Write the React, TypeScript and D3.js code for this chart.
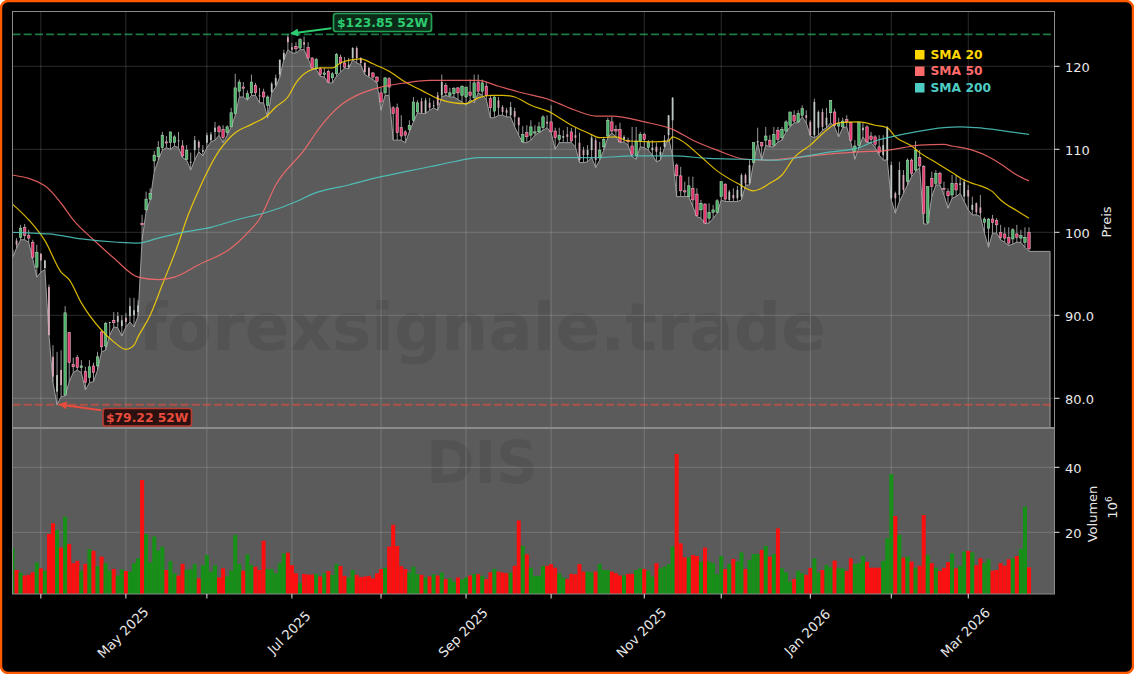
import React from "react";
import * as d3 from "d3";

const opens = [
  97.3,99.0,99.4,100.6,99.6,98.8,95.8,97.4,95.7,93.4,
  85.0,80.8,83.4,80.4,87.9,84.1,84.9,83.7,83.2,82.5,
  83.9,83.9,88.0,86.3,89.1,89.4,89.2,88.7,89.7,89.9,
  90.0,90.4,101.1,102.7,104.0,108.6,109.1,110.2,110.9,110.8,
  110.8,111.1,110.4,108.8,108.4,109.9,110.9,109.7,110.8,111.1,
  112.1,112.7,112.4,112.0,112.7,114.3,117.0,117.5,116.1,116.8,
  117.7,116.5,116.9,115.3,116.9,117.7,119.0,120.8,123.5,122.3,
  122.4,122.2,122.9,122.3,121.0,119.7,119.7,119.0,119.4,118.6,
  119.1,121.1,120.4,119.9,121.0,122.2,121.0,120.4,119.8,119.2,
  118.7,116.8,116.8,118.5,115.0,115.0,112.6,112.1,112.4,113.5,
  114.5,115.8,114.4,115.6,115.2,116.5,116.5,117.7,116.5,116.7,
  117.4,116.5,116.3,116.9,116.2,118.1,117.0,117.6,116.1,114.6,
  115.9,115.1,114.7,114.1,114.6,113.8,110.9,112.0,111.7,112.0,
  112.1,112.6,113.3,113.3,112.2,111.2,111.4,111.8,112.1,111.7,
  110.8,109.9,109.3,109.9,111.1,109.0,110.3,111.6,113.3,112.4,
  112.4,111.2,111.1,110.4,109.3,111.0,111.8,110.2,109.9,110.3,
  109.3,110.3,111.7,113.5,108.1,106.8,105.0,104.3,105.3,104.6,
  102.7,103.4,101.7,102.4,102.4,104.3,105.8,103.9,104.5,104.1,
  104.3,106.9,105.9,108.4,110.8,110.8,111.1,111.1,110.5,112.3,
  111.4,112.2,112.9,114.1,113.3,114.1,114.1,113.3,111.7,112.6,
  114.5,112.9,114.4,114.5,112.8,112.7,113.6,113.2,109.7,110.5,
  112.3,112.7,111.6,111.5,110.3,109.3,108.7,104.1,104.7,104.5,
  106.9,106.1,108.7,107.5,109.0,107.9,101.2,106.5,105.9,107.1,
  105.3,104.9,104.5,105.9,105.7,104.3,105.1,102.7,103.5,103.0,
  101.2,100.5,101.6,101.4,100.0,99.8,99.4,99.2,99.8,99.3,98.8,100.0,
];
const closes = [
  97.9,98.5,100.5,99.6,99.3,97.0,97.6,96.6,96.6,87.6,
  82.6,82.8,81.6,90.3,84.3,83.8,83.7,83.9,81.9,83.8,
  83.1,85.0,86.2,89.0,89.2,89.1,89.9,89.4,89.2,91.1,
  90.6,91.2,100.9,104.0,104.7,109.3,110.2,111.7,110.8,112.1,
  111.5,111.0,109.2,109.9,108.5,111.1,110.2,109.9,111.7,111.8,
  112.6,112.1,111.4,112.7,114.4,117.4,118.1,117.4,116.7,118.1,
  116.8,116.4,116.3,116.3,117.9,118.6,120.8,121.6,122.9,122.0,
  122.1,123.2,122.6,121.0,119.8,120.8,119.0,119.2,118.1,119.1,
  121.4,120.4,119.9,120.2,122.2,121.0,120.4,119.3,118.8,118.7,
  118.2,115.7,118.6,117.5,114.3,112.0,111.6,111.7,112.9,115.7,
  115.6,114.4,115.9,115.0,115.3,115.3,118.1,116.8,116.8,117.3,
  116.8,117.6,117.5,116.5,118.0,117.0,118.0,116.5,115.0,116.3,
  115.0,114.5,114.4,115.1,113.9,112.9,111.8,111.5,112.7,112.1,
  112.7,113.9,113.1,112.1,111.4,111.7,111.6,111.5,111.0,111.4,
  108.7,109.3,109.9,111.4,108.7,109.9,111.2,113.5,112.2,112.2,
  110.9,111.5,110.9,109.4,111.0,111.8,111.2,110.8,110.2,109.7,
  109.7,111.1,114.1,116.2,106.8,105.0,104.9,105.6,103.9,102.0,
  103.5,101.1,102.4,102.7,103.8,106.1,104.0,104.9,104.1,105.1,
  106.9,105.9,108.1,110.8,111.0,110.4,111.6,110.5,111.8,111.2,
  112.4,113.3,114.5,113.4,114.3,114.9,113.8,111.7,115.7,114.5,
  112.7,113.8,115.9,112.9,113.1,113.4,113.3,111.1,110.4,113.2,
  112.6,110.9,111.2,110.6,109.6,110.5,112.6,108.1,104.1,107.5,
  105.1,108.7,107.1,109.9,108.0,102.3,105.5,105.5,107.1,105.9,
  105.2,104.4,105.9,105.1,105.9,106.1,104.3,103.3,102.4,102.3,
  101.6,101.6,101.2,100.9,99.4,99.3,98.7,100.3,99.4,99.6,99.4,98.0,
];
const highs = [
  98.2,99.3,100.9,101.0,100.3,99.1,98.5,97.5,96.7,93.7,
  86.4,85.6,85.8,91.1,88.0,84.9,85.2,84.6,83.8,84.6,
  84.3,85.6,88.1,89.2,89.2,90.4,90.4,90.0,90.3,92.1,
  92.1,91.8,102.1,104.9,105.3,109.8,111.0,112.1,111.6,112.1,
  111.7,112.1,111.1,110.5,109.6,111.6,111.1,110.5,112.0,112.1,
  113.3,112.9,112.9,112.9,115.0,119.1,118.4,118.1,117.1,119.0,
  118.0,117.4,117.3,116.5,118.1,119.0,120.8,122.0,123.85,122.8,
  122.9,123.4,123.6,122.9,121.1,121.0,119.9,119.8,119.6,119.3,
  121.6,121.4,121.1,121.0,122.3,122.4,121.1,120.5,119.9,119.3,
  118.8,117.4,118.7,118.7,115.2,115.5,114.1,112.3,113.5,116.3,
  115.9,116.2,116.2,116.2,115.9,116.9,119.0,118.0,117.4,117.5,
  117.5,117.7,117.5,118.4,119.0,119.0,118.4,118.1,116.5,116.4,
  116.3,115.3,115.0,115.7,115.0,113.9,112.8,112.9,113.5,112.9,
  113.3,114.1,114.1,115.3,112.6,112.6,112.3,112.7,112.6,112.6,
  112.0,110.3,110.5,111.7,111.4,110.9,111.5,113.8,113.9,112.9,
  113.2,111.7,111.4,112.7,112.7,112.1,112.0,111.1,111.1,110.8,
  110.3,111.7,114.1,116.3,108.3,107.9,106.1,106.7,106.7,105.3,
  103.9,103.5,103.5,103.3,104.0,106.1,105.9,105.1,105.3,105.6,
  107.1,107.1,108.7,110.8,112.6,110.9,112.7,111.7,112.7,112.7,
  112.7,113.5,114.5,114.7,114.7,115.3,114.7,113.5,116.1,114.7,
  114.9,115.0,115.9,114.9,113.8,113.8,114.1,113.3,111.1,113.3,
  113.2,112.9,112.1,111.7,111.7,111.7,112.8,108.5,104.9,108.5,
  107.5,108.9,108.9,111.0,109.9,108.1,105.5,107.3,107.5,107.3,
  106.1,105.3,106.9,106.9,106.5,106.4,105.7,104.3,103.6,104.5,
  101.8,101.7,102.1,101.7,100.9,100.6,100.6,100.5,100.9,100.3,100.6,100.6,
];
const lows = [
  96.9,98.1,99.1,99.1,98.8,96.8,94.6,95.2,95.5,87.6,
  81.9,79.22,80.2,80.3,82.0,83.1,83.4,83.1,81.0,81.9,
  82.0,83.4,85.6,85.8,87.6,88.6,88.5,87.5,88.6,89.2,
  88.6,89.9,99.1,102.5,103.9,107.3,108.7,109.9,110.2,110.0,
  110.4,110.2,109.0,108.7,107.5,108.7,109.7,109.2,110.2,110.9,
  111.1,111.7,110.8,111.7,112.7,114.1,116.3,116.3,115.9,116.5,
  116.5,115.6,115.6,113.8,116.8,117.5,118.7,120.8,122.0,121.6,
  121.6,122.0,122.0,120.9,119.7,119.6,118.8,118.7,118.0,118.0,
  118.8,119.3,119.8,119.7,120.8,120.4,120.2,119.0,118.7,118.4,
  118.0,114.7,116.5,116.5,111.1,111.1,111.1,110.8,112.1,113.3,
  114.4,114.3,114.3,114.7,115.0,114.7,116.3,116.5,116.3,116.3,
  116.0,115.7,115.3,116.0,115.6,116.8,116.5,116.0,113.8,113.8,
  114.1,114.1,113.9,113.9,112.7,111.7,110.8,110.8,111.1,111.7,
  112.0,112.3,112.6,112.0,110.0,110.8,110.8,110.8,110.8,110.3,
  108.4,108.4,108.5,109.0,107.8,108.7,109.9,111.4,112.0,111.5,
  110.8,110.9,110.5,109.1,108.8,110.3,110.2,109.9,109.3,108.5,
  108.7,110.2,111.4,109.1,104.3,104.3,104.3,104.3,103.1,101.9,
  101.7,101.1,101.1,101.7,102.3,103.9,103.7,103.7,103.7,103.7,
  103.9,105.7,105.7,108.4,110.8,108.7,110.5,110.3,110.3,110.9,
  111.1,112.1,112.7,113.2,113.2,113.9,113.2,111.6,111.4,111.7,
  112.3,112.6,113.2,112.7,111.5,112.6,112.7,110.9,108.8,110.2,
  111.5,110.8,110.8,110.2,109.3,108.7,108.7,103.9,102.3,103.7,
  104.7,105.7,106.7,107.3,107.8,101.0,101.0,104.3,105.7,105.7,
  104.5,102.9,104.1,104.3,104.7,103.7,102.7,102.1,102.1,101.9,
  99.9,98.2,99.9,99.9,99.1,98.8,98.4,98.6,98.8,98.8,98.2,97.7,
];
const volumes = [
  15.1,8.4,7.6,6.7,6.9,7.7,10.7,8.9,8.2,19.5,
  22.8,20.7,15.3,24.8,16.4,10.5,11.2,8.2,10.3,14.8,
  14.3,9.6,12.5,10.5,8.2,8.7,6.7,8.6,8.1,7.9,
  10.5,12.0,36.1,19.5,10.7,18.7,14.4,15.6,8.4,11.2,
  7.4,6.7,10.3,8.4,8.6,10.2,5.8,9.9,13.0,7.9,
  9.9,6.1,8.9,6.4,8.2,19.2,10.3,8.2,13.2,9.9,
  9.4,8.4,17.4,8.6,8.7,7.4,10.5,13.5,13.7,9.9,
  7.4,4.3,7.2,7.0,7.0,7.2,6.4,7.4,8.1,6.9,
  10.2,9.6,6.6,6.1,8.4,6.9,6.2,6.4,6.6,5.8,
  7.4,8.7,9.1,15.6,22.3,15.8,9.6,8.7,7.6,9.4,
  7.1,6.9,6.1,6.4,7.1,6.7,7.6,5.6,5.8,4.8,
  6.1,5.5,6.1,6.7,7.2,7.1,6.6,5.6,7.7,8.7,
  7.9,7.6,7.4,7.6,9.7,23.6,15.8,13.2,9.1,6.6,
  6.6,9.6,9.7,10.2,9.1,7.4,6.1,5.6,7.2,7.1,
  10.2,7.9,7.9,7.7,7.9,10.3,8.4,8.4,7.9,7.4,
  6.7,6.7,7.2,7.2,8.4,8.9,8.7,8.1,6.4,10.5,
  8.9,9.4,10.2,15.6,44.1,16.6,12.3,12.3,13.0,12.7,
  11.0,15.3,11.0,10.5,7.1,12.7,8.7,10.3,11.8,11.0,
  13.8,8.7,11.5,13.3,13.3,14.6,15.8,12.5,13.3,21.2,
  8.9,7.7,4.8,5.6,8.1,7.4,6.9,9.0,12.0,7.6,
  8.4,9.9,9.2,11.3,8.9,8.9,8.1,12.0,10.2,10.5,
  12.7,10.9,9.1,9.1,9.1,11.2,18.2,37.9,25.0,19.2,
  12.2,12.5,11.0,9.1,9.7,25.3,13.0,10.5,9.1,8.1,
  9.1,10.8,13.5,8.9,9.6,14.1,14.3,13.8,9.9,12.0,
  10.5,11.7,8.2,8.4,10.5,9.7,11.7,12.0,12.7,14.9,27.9,9.2,
];
const faintBars = [
  0,1,7,8,9,10,11,12,24,26,27,28,29,30,31,41,44,45,46,47,48,49,50,61,64,65,66,67,68,69,
  72,83,84,85,86,87,88,101,102,103,104,105,106,120,121,122,123,124,125,132,136,137,139,
  140,141,142,143,144,151,158,159,160,161,162,163,177,178,179,180,181,182,184,196,197,
  198,199,200,201,210,215,216,217,218,219,220,234,235,236,237,238,239,
];

const sma20Bars = [0,4,8,12,14,17,22,25,28,30,31,34,37,41,43,46,51,55,59,63,65,68,70,73,76,79,81,84,86,89,93,97,101,105,109,112,115,118,121,124,128,133,135,138,142,145,149,152,158,162,163,165,170,174,179,183,187,190,193,197,201,204,209,213,216,218,222,224,227,228,232,235,237,239,242,244,245,248,251];
const sma20 = [103.4,101.5,99.0,95.2,94.3,91.5,88.2,86.8,85.9,86.4,87.4,90.0,93.7,98.7,101.6,105.1,109.8,112.0,113.0,114.1,115.1,116.3,118.0,119.4,119.8,119.8,120.4,120.8,120.9,120.3,119.4,118.1,117.1,116.1,115.6,115.5,116.2,116.5,116.5,116.3,115.3,114.4,113.8,112.9,112.0,111.4,111.5,111.0,110.9,111.0,111.5,111.1,109.1,107.4,105.9,105.0,105.9,106.9,109.0,110.5,112.3,113.2,113.3,112.9,112.6,111.5,110.4,109.6,108.7,108.4,107.2,106.3,105.9,105.6,104.9,103.9,103.5,102.6,101.7];
const sma50Bars = [0,8,12,15,20,25,31,36,40,46,54,58,61,65,72,76,81,85,91,97,103,115,120,125,133,135,139,144,148,156,163,168,174,181,186,193,201,209,215,220,224,230,232,237,241,245,248,251];
const sma50 = [106.9,105.6,103.5,101.5,99.1,96.9,94.6,94.3,94.6,96.1,98.1,99.9,101.6,105.7,109.9,112.7,115.3,116.5,117.5,118.0,118.3,118.3,117.6,116.9,115.9,115.5,114.7,114.0,114.0,113.3,112.4,111.1,109.9,108.8,108.7,109.0,109.4,109.7,109.8,110.2,110.5,110.6,110.4,109.9,109.1,107.9,106.9,106.2];
const sma200Bars = [0,5,9,17,26,31,36,42,49,56,62,71,74,83,91,97,103,109,115,120,128,139,145,153,163,172,181,189,195,201,209,213,217,223,230,234,238,245,251];
const sma200 = [100.0,99.9,99.8,99.2,98.8,98.7,99.3,100.0,100.6,101.6,102.3,103.9,104.6,105.7,106.7,107.3,107.9,108.5,109.0,109.0,109.0,109.0,109.0,109.2,109.2,108.9,108.8,108.7,109.1,109.6,110.2,111.0,111.5,112.1,112.6,112.7,112.6,112.2,111.8];

const xTickBars = [7,28,48,69,91,112,133,156,175,197,217,236];
const xTickLabels = ["","May 2025","","Jul 2025","","Sep 2025","","Nov 2025","","Jan 2026","","Mar 2026"];
const priceTicks = [120,110,100,90,80];
const priceTickLabels = ["120","110","100","90.0","80.0"];
const volumeTicks = [40,20];
const yearHigh = 123.85;
const yearLow = 79.22;
const highLabel = "$123.85 52W";
const lowLabel = "$79.22 52W";
const legendNames = ["SMA 20","SMA 50","SMA 200"];
const legendColors = ["#FFD700","#FF6B6B","#4ECDC4"];
const areaLastBar = 256.2;

const FONT = "'DejaVu Sans', sans-serif";
const W = 1134, H = 674;
const L = 12.5, R = 1054.5, T = 11.5, MID = 428, B = 594;

const x = d3.scaleLinear().domain([0, 251]).range([12.5, 1029]);
const y = d3.scaleLinear().domain([100, 110]).range([232.3, 149.3]);
const yv = d3.scaleLinear().domain([20, 40]).range([532.3, 467.3]);

const GREY = "#5b5b5b";

export default function App() {
  const areaPoints: [number, number][] = lows.map((v, i) => [x(i), y(v)]);
  areaPoints.push([x(areaLastBar), y(lows[lows.length - 1])]);
  const areaPath = d3.area<[number, number]>().x(d => d[0]).y0(MID).y1(d => d[1])(areaPoints) || "";
  const edgePath = d3.line<[number, number]>()([
    ...areaPoints,
    [x(areaLastBar), MID],
  ]) || "";
  const smaLine = (bars: number[], vals: number[]) =>
    d3.line<number>().x(b => x(b)).y((_, i) => y(vals[i])).curve(d3.curveMonotoneX)(bars) || "";
  const faint = new Set(faintBars);

  return (
    <svg width={W} height={H} viewBox={`0 0 ${W} ${H}`} style={{ position: "absolute", left: 0, top: 0, display: "block" }} fontFamily={FONT}>
      <defs>
        <clipPath id="plotClip"><rect x={L} y={T} width={R - L} height={B - T} /></clipPath>
        <marker id="arrowG" viewBox="0 0 10 10" refX="9" refY="5" markerWidth="12" markerHeight="8" orient="auto" markerUnits="userSpaceOnUse">
          <path d="M0,0 L10,5 L0,10 Z" fill="#2ecc71" />
        </marker>
        <marker id="arrowR" viewBox="0 0 10 10" refX="9" refY="5" markerWidth="12" markerHeight="8" orient="auto" markerUnits="userSpaceOnUse">
          <path d="M0,0 L10,5 L0,10 Z" fill="#e74c3c" />
        </marker>
      </defs>
      <rect x={1} y={1} width={W - 2} height={H - 2} rx={7} fill="#000" stroke="#ff5a00" strokeWidth={2.4} />

      {/* grey fills */}
      <rect x={L} y={MID} width={R - L} height={B - MID} fill={GREY} />
      <path d={areaPath} fill={GREY} />

      {/* watermark */}
      <text x={482} y={350} textAnchor="middle" fontSize={66} fontWeight="bold" fill="#3c3c3c" opacity={0.24}>forexsignale.trade</text>
      <text x={482} y={483} textAnchor="middle" fontSize={58} fontWeight="bold" fill="#3c3c3c" opacity={0.24}>DIS</text>

      {/* grid */}
      <g stroke="#fff" strokeOpacity={0.17} strokeWidth={1}>
        {xTickBars.map((b, i) => <line key={i} x1={x(b)} x2={x(b)} y1={T} y2={B} />)}
        {priceTicks.map((v, i) => <line key={i} x1={L} x2={R} y1={y(v)} y2={y(v)} />)}
        {volumeTicks.map((v, i) => <line key={i} x1={L} x2={R} y1={yv(v)} y2={yv(v)} />)}
      </g>

      {/* area edge */}
      <path d={edgePath} fill="none" stroke="#9e9e9e" strokeWidth={1} clipPath="url(#plotClip)" />

      {/* volume */}
      <g clipPath="url(#plotClip)">
        {volumes.map((v, i) => (
          <rect key={i} x={x(i) - 2} width={4} y={yv(v)} height={B - yv(v)}
            fill={closes[i] >= opens[i] ? "#169016" : "#fb0f0f"} />
        ))}
      </g>

      {/* candles */}
      <g clipPath="url(#plotClip)">
        {opens.map((o, i) => {
          const c = closes[i];
          const up = c >= o;
          const top = y(Math.max(o, c));
          const bottom = y(Math.min(o, c));
          const pale = faint.has(i);
          return (
            <g key={i}>
              <line x1={x(i)} x2={x(i)} y1={y(highs[i])} y2={y(lows[i])} stroke="#a8a8a8" strokeWidth={0.9} />
              {pale ? (
                <rect x={x(i) - 0.9} width={1.8} y={top} height={Math.max(bottom - top, 1)}
                  fill={up ? "#bcc6be" : "#d8a9b8"} />
              ) : (
                <rect x={x(i) - 1.25} width={2.5} y={top} height={Math.max(bottom - top, 1.2)}
                  fill={up ? "#49b468" : "#e63a6e"} stroke={up ? "#c4dcc6" : "#e8c4ce"} strokeWidth={0.5} />
              )}
            </g>
          );
        })}
      </g>

      {/* moving averages */}
      <path d={smaLine(sma20Bars, sma20)} fill="none" stroke="#FFD700" strokeOpacity={0.85} strokeWidth={1.2} />
      <path d={smaLine(sma50Bars, sma50)} fill="none" stroke="#FF6B6B" strokeOpacity={0.85} strokeWidth={1.2} />
      <path d={smaLine(sma200Bars, sma200)} fill="none" stroke="#4ECDC4" strokeOpacity={0.85} strokeWidth={1.2} />

      {/* high / low lines */}
      <line x1={L} x2={R} y1={y(yearHigh)} y2={y(yearHigh)} stroke="#2ecc71" strokeOpacity={0.6} strokeWidth={1.9} strokeDasharray="8 3.2" />
      <line x1={L} x2={R} y1={y(yearLow)} y2={y(yearLow)} stroke="#e74c3c" strokeOpacity={0.6} strokeWidth={1.9} strokeDasharray="8 3.2" />

      {/* spines */}
      <rect x={L} y={T} width={R - L} height={B - T} fill="none" stroke="#8c8c8c" strokeWidth={1} />
      <line x1={L} x2={R} y1={MID} y2={MID} stroke="#8c8c8c" strokeWidth={2} />

      {/* annotations */}
      <line x1={331.5} y1={28.3} x2={291} y2={33.4} stroke="#2ecc71" strokeWidth={2} markerEnd="url(#arrowG)" />
      <rect x={333.5} y={13.5} width={98} height={18} rx={2.5} fill="#0b2a17" stroke="#22a257" strokeWidth={1.7} />
      <text x={382.5} y={27} textAnchor="middle" fontSize={12.3} fontWeight="bold" fill="#2ecc71">{highLabel}</text>

      <line x1={101} y1={410.3} x2={59.5} y2={404.4} stroke="#e74c3c" strokeWidth={2} markerEnd="url(#arrowR)" />
      <rect x={103} y={408.5} width={88.5} height={17.5} rx={2.5} fill="#2b1110" stroke="#b83c32" strokeWidth={1.7} />
      <text x={147.2} y={421.7} textAnchor="middle" fontSize={12.3} fontWeight="bold" fill="#e74c3c">{lowLabel}</text>

      {/* legend */}
      {legendNames.map((name, i) => (
        <g key={name}>
          <rect x={915} y={50 + i * 16.5} width={9.5} height={9.5} fill={legendColors[i]} />
          <text x={930.5} y={58.5 + i * 16.5} fontSize={12.3} fontWeight="bold" fill={legendColors[i]}>{name}</text>
        </g>
      ))}

      {/* right axis */}
      <g fill="#e8e8e8" fontSize={13}>
        {priceTicks.map((v, i) => (
          <g key={i}>
            <line x1={R} x2={R + 5} y1={y(v)} y2={y(v)} stroke="#e8e8e8" />
            <text x={1065} y={y(v) + 5.6}>{priceTickLabels[i]}</text>
          </g>
        ))}
        {volumeTicks.map(v => (
          <g key={v}>
            <line x1={R} x2={R + 5} y1={yv(v)} y2={yv(v)} stroke="#e8e8e8" />
            <text x={1065} y={yv(v) + 5.6}>{v}</text>
          </g>
        ))}
        <text transform="translate(1110.5,222) rotate(-90)" textAnchor="middle">Preis</text>
        <text transform="translate(1096.5,514) rotate(-90)" textAnchor="middle">Volumen</text>
        <text transform="translate(1116.5,507.5) rotate(-90)" textAnchor="middle">10<tspan dy={-5} fontSize={9}>6</tspan></text>
      </g>

      {/* bottom axis */}
      {xTickBars.map((b, i) => (
        <g key={i}>
          <line x1={x(b)} x2={x(b)} y1={B} y2={B + 4.5} stroke="#e8e8e8" />
          {xTickLabels[i] && (
            <text transform={`translate(${x(b) - 2.5},633) rotate(-45)`} textAnchor="middle" dominantBaseline="middle" fontSize={13.3} fill="#e8e8e8">{xTickLabels[i]}</text>
          )}
        </g>
      ))}
    </svg>
  );
}
